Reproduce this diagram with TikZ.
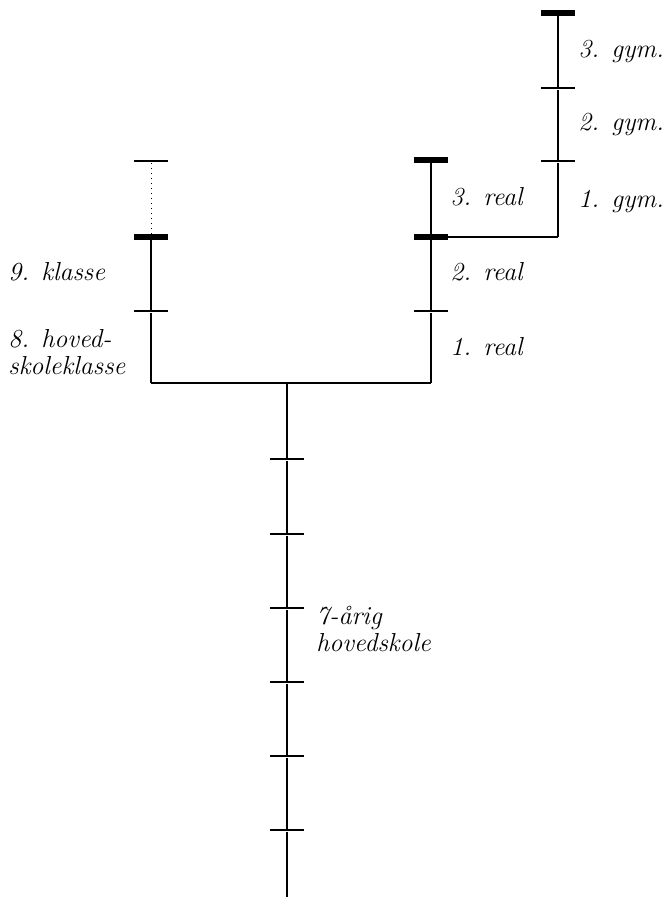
\documentclass[tikz,border=0pt]{standalone}
\usepackage{fontspec}
\begin{document}
\begin{tikzpicture}[x=0.5pt, y=-0.5pt,
    smalltick/.style ={rectangle, fill, inner sep=0pt, minimum width=17pt, minimum height=1.1pt},
    bigtick/.style ={smalltick, minimum height=2.6pt},
    grade/.style ={anchor=base west, inner sep=0pt, align=left,
      font=\fontsize{13}{13.5}\selectfont\itshape}]
   \useasboundingbox (0,0) rectangle (663,901);

   % 7-aarig hovedskole
   \coordinate (T0) at (287,383);
   \node[smalltick] (T1) at (287,459) {};
   \node[smalltick] (T2) at (287,534) {};
   \node[smalltick] (T3) at (287,608) {};
   \node[smalltick] (T4) at (287,682) {};
   \node[smalltick] (T5) at (287,756) {};
   \node[smalltick] (T6) at (287,830) {};
   \coordinate (T7) at (287,897);

   % hovedskoleklasser
   \coordinate (LB) at (151,383);
   \node[smalltick] (L1) at (151,311) {};
   \node[bigtick] (L2) at (151,237) {};
   \node[smalltick] (L3) at (151,161) {};

   % realskole
   \coordinate (RB) at (431,383);
   \node[smalltick] (R1) at (431,311) {};
   \node[bigtick] (R2) at (431,237) {};
   \node[bigtick] (R3) at (431,160) {};

   % gymnasium
   \coordinate (GB) at (558,237);
   \node[smalltick] (G1) at (558,161) {};
   \node[smalltick] (G2) at (558,88) {};
   \node[bigtick] (G3) at (558,13) {};

   \draw[line width=1.3pt] (LB) to (RB);
   \draw[line width=1.3pt] (T0) to (T1);
   \draw[line width=1.3pt] (T1) to (T2);
   \draw[line width=1.3pt] (T2) to (T3);
   \draw[line width=1.3pt] (T3) to (T4);
   \draw[line width=1.3pt] (T4) to (T5);
   \draw[line width=1.3pt] (T5) to (T6);
   \draw[line width=1.3pt] (T6) to (T7);

   \draw[line width=1.3pt] (LB) to (L1);
   \draw[line width=1.3pt] (L1) to (L2);
   \draw[line width=0.5pt, dotted] (L2) to (L3);

   \draw[line width=1.3pt] (RB) to (R1);
   \draw[line width=1.3pt] (R1) to (R2);
   \draw[line width=1.3pt] (R2) to (R3);

   \draw[line width=1.3pt] (R2) to (GB);
   \draw[line width=1.3pt] (GB) to (G1);
   \draw[line width=1.3pt] (G1) to (G2);
   \draw[line width=1.3pt] (G2) to (G3);

   \node[grade] (g3) at (578,57) {3. gym.};
   \node[grade] (g2) at (578,130) {2. gym.};
   \node[grade] (g1) at (578,207) {1. gym.};
   \node[grade] (r3) at (450,205) {3. real};
   \node[grade] (r2) at (450,280) {2. real};
   \node[grade] (r1) at (450,355) {1. real};
   \node[grade] (k9) at (8,280) {9. klasse};
   \node[grade] (k8) at (8,374) {8. hoved-\\skoleklasse};
   \node[grade] (hs) at (316,651) {7-årig\\hovedskole};
\end{tikzpicture}
\end{document}
